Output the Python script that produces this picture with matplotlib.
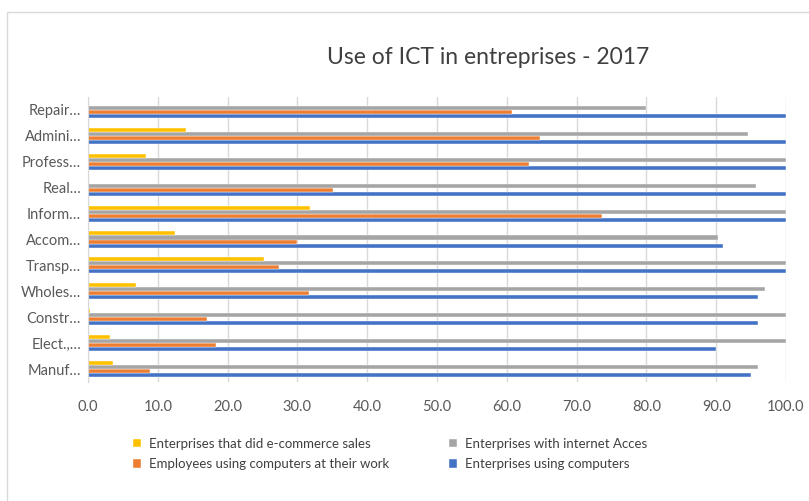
import matplotlib.pyplot as plt
import numpy as np
from matplotlib.patches import Rectangle

plt.rcParams['font.family'] = ['Lato', 'DejaVu Sans']

categories = ["Manuf…", "Elect.,…", "Constr…", "Wholes…", "Transp…", "Accom…",
              "Inform…", "Real…", "Profess…", "Admini…", "Repair…"]

computers = [95.0, 90.0, 96.0, 96.0, 100.0, 91.0, 100.0, 100.0, 100.0, 100.0, 100.0]
employees = [8.9, 18.3, 17.1, 31.7, 27.4, 30.0, 73.6, 35.1, 63.2, 64.8, 60.8]
internet = [96.0, 100.0, 100.0, 97.0, 100.0, 90.2, 100.0, 95.7, 100.0, 94.5, 80.0]
ecommerce = [3.6, 3.2, 0.3, 6.9, 25.2, 12.4, 31.8, 0.0, 8.3, 14.0, 0.0]

series = [
    ("Enterprises using computers", computers, "#4472c4"),
    ("Employees using computers at their work", employees, "#ed7d31"),
    ("Enterprises with internet Acces", internet, "#a5a5a5"),
    ("Enterprises that did e-commerce sales", ecommerce, "#ffc000"),
]

fig = plt.figure(figsize=(8.09, 5.01), dpi=100)
fig.patches.append(Rectangle((7 / 809, -0.1), 1.2, 1 - 12 / 501 + 0.1,
                             transform=fig.transFigure, fill=False,
                             edgecolor="#d9d9d9", linewidth=1))

ax = fig.add_axes((88 / 809, 1 - 382 / 501, 698 / 809, 285 / 501))

y = np.arange(len(categories))
h = 0.155
handles = {}
for i, (name, vals, color) in enumerate(series):
    bars = ax.barh(y + (i - 1.5) * h, vals, height=h, color=color, label=name,
                   edgecolor="white", linewidth=0.3)
    handles[name] = bars

ax.set_xlim(0, 100)
ax.set_ylim(-0.5, len(categories) - 0.5)
ax.set_xticks(np.arange(0, 101, 10))
ax.set_xticklabels([f"{v:.1f}" for v in range(0, 101, 10)])
ax.set_yticks(y)
ax.set_yticklabels(categories)
ax.tick_params(length=0, labelsize=10.5, colors="#595959")
ax.tick_params(axis="x", pad=13)
ax.tick_params(axis="y", pad=5)
ax.grid(axis="x", color="#d9d9d9", linewidth=1)
ax.set_axisbelow(True)
for s in ["top", "right", "bottom"]:
    ax.spines[s].set_visible(False)
ax.spines["left"].set_color("#d9d9d9")

fig.text(488 / 809, 1 - 58 / 501, "Use of ICT in entreprises - 2017",
         ha="center", va="center", fontsize=16.5, color="#404040")

order = ["Enterprises that did e-commerce sales",
         "Employees using computers at their work",
         "Enterprises with internet Acces",
         "Enterprises using computers"]
leg = fig.legend([handles[n] for n in order], order, ncol=2,
                 loc="center", bbox_to_anchor=(390 / 809, 1 - 454 / 501),
                 frameon=False, fontsize=9.5, handlelength=0.6,
                 handleheight=0.6, columnspacing=4.5, handletextpad=0.6,
                 labelspacing=0.65, borderpad=0)
for t in leg.get_texts():
    t.set_color("#404040")

fig.savefig("out.png", dpi=100)
